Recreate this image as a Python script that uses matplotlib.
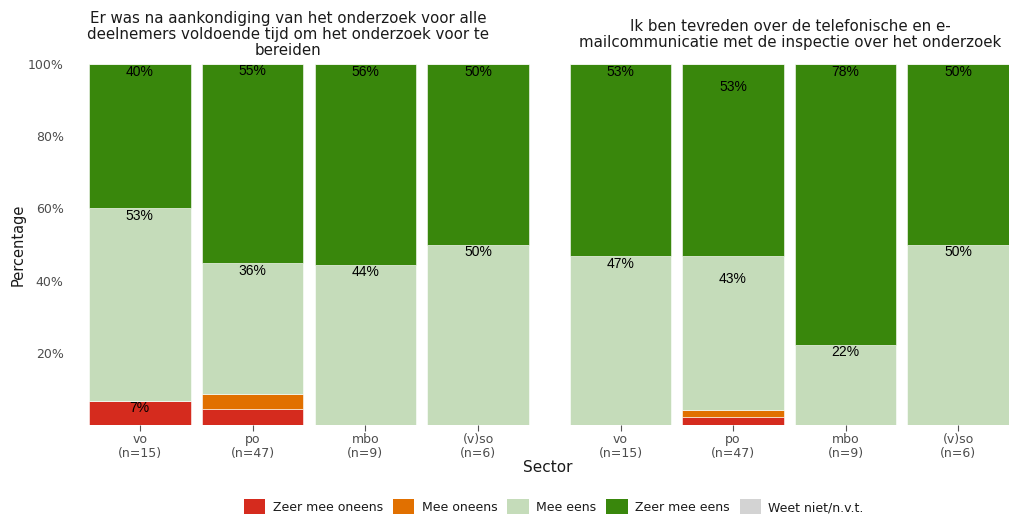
import matplotlib
matplotlib.use("Agg")
import matplotlib.pyplot as plt
from matplotlib.patches import Patch
import numpy as np

# ---------------- data ----------------
sectors = ["vo", "po", "mbo", "(v)so"]
n_values = [15, 47, 9, 6]
categories = ["Zeer mee oneens", "Mee oneens", "Mee eens", "Zeer mee eens", "Weet niet/n.v.t."]
colors = ["#D52B1E", "#E17000", "#C5DCBA", "#39870C", "#D3D3D3"]

title_left = "Er was na aankondiging van het onderzoek voor alle\ndeelnemers voldoende tijd om het onderzoek voor te\nbereiden"
title_right = "Ik ben tevreden over de telefonische en e-\nmailcommunicatie met de inspectie over het onderzoek"

# percentages per category for each sector
left_zeer_oneens = [6.7, 4.3, 0.0, 0.0]
left_oneens = [0.0, 4.3, 0.0, 0.0]
left_eens = [53.3, 36.2, 44.4, 50.0]
left_zeer_eens = [40.0, 55.3, 55.6, 50.0]
left_weet_niet = [0.0, 0.0, 0.0, 0.0]

right_zeer_oneens = [0.0, 2.1, 0.0, 0.0]
right_oneens = [0.0, 2.1, 0.0, 0.0]
right_eens = [46.7, 42.6, 22.2, 50.0]
right_zeer_eens = [53.3, 53.2, 77.8, 50.0]
right_weet_niet = [0.0, 0.0, 0.0, 0.0]

panels = [
    (title_left, [left_zeer_oneens, left_oneens, left_eens, left_zeer_eens, left_weet_niet]),
    (title_right, [right_zeer_oneens, right_oneens, right_eens, right_zeer_eens, right_weet_niet]),
]

# ---------------- figure ----------------
W, H = 1009, 514
fig = plt.figure(figsize=(W / 100, H / 100), dpi=100)

def px_axes(x0, x1, ytop, ybot):
    return fig.add_axes([x0 / W, (H - ybot) / H, (x1 - x0) / W, (ybot - ytop) / H])

ax_pos = [(72, 546, 64, 425), (553, 1025.5, 64, 425)]
title_x = [288, 790]
tick_gray = "#4D4D4D"
text_dark = "#1A1A1A"
xlabels = [f"{s}\n(n={n})" for s, n in zip(sectors, n_values)]
x = np.arange(len(sectors))

for i, ((title, data), pos) in enumerate(zip(panels, ax_pos)):
    ax = px_axes(*pos)
    data = np.array(data)
    bottom = np.zeros(len(sectors))
    for c, vals in enumerate(data):
        ax.bar(x, vals, width=0.9, bottom=bottom, color=colors[c],
               edgecolor="white", linewidth=0.4)
        bottom += vals
    # labels at cumulative positions of visible segments
    for j in range(len(sectors)):
        cum = 0.0
        for c in range(len(categories)):
            v = data[c, j]
            if v >= 3:
                cum += v
                if v >= 5:
                    ax.text(x[j], cum - 2.1, f"{v:.0f}%", ha="center", va="center",
                            fontsize=10, family="Liberation Sans", color="black")
    ax.set_xlim(-0.6, 3.6)
    ax.set_ylim(0, 100)
    ax.set_yticks([20, 40, 60, 80, 100])
    if i == 0:
        ax.set_yticklabels([f"{v}%" for v in [20, 40, 60, 80, 100]])
    else:
        ax.set_yticklabels([])
    ax.tick_params(axis="y", length=0, labelsize=9, labelcolor=tick_gray, pad=6)
    ax.set_xticks(x)
    ax.set_xticklabels(xlabels, fontsize=9, color=tick_gray, linespacing=1.05)
    ax.tick_params(axis="x", length=4, width=0.8, color="#555555", pad=2)
    for sp in ax.spines.values():
        sp.set_visible(False)
    fig.text(title_x[i] / W, 1 - 34.5 / H, title, ha="center", va="center",
             fontsize=10.8, color=text_dark, linespacing=1.12)

fig.text(18 / W, 1 - 245 / H, "Percentage", rotation=90, ha="center", va="center",
         fontsize=10.5, color=text_dark)
fig.text(548 / W, 1 - 467 / H, "Sector", ha="center", va="center", fontsize=11, color=text_dark)

handles = [Patch(facecolor=col, edgecolor="none", label=lab) for col, lab in zip(colors, categories)]
fig.legend(handles=handles, loc="center", bbox_to_anchor=(554 / W, 1 - 507 / H), ncol=5,
           frameon=False, fontsize=9, handlelength=1.7, handleheight=1.7,
           handletextpad=0.6, columnspacing=0.8, labelcolor=text_dark)

fig.savefig("out.png", dpi=100)
